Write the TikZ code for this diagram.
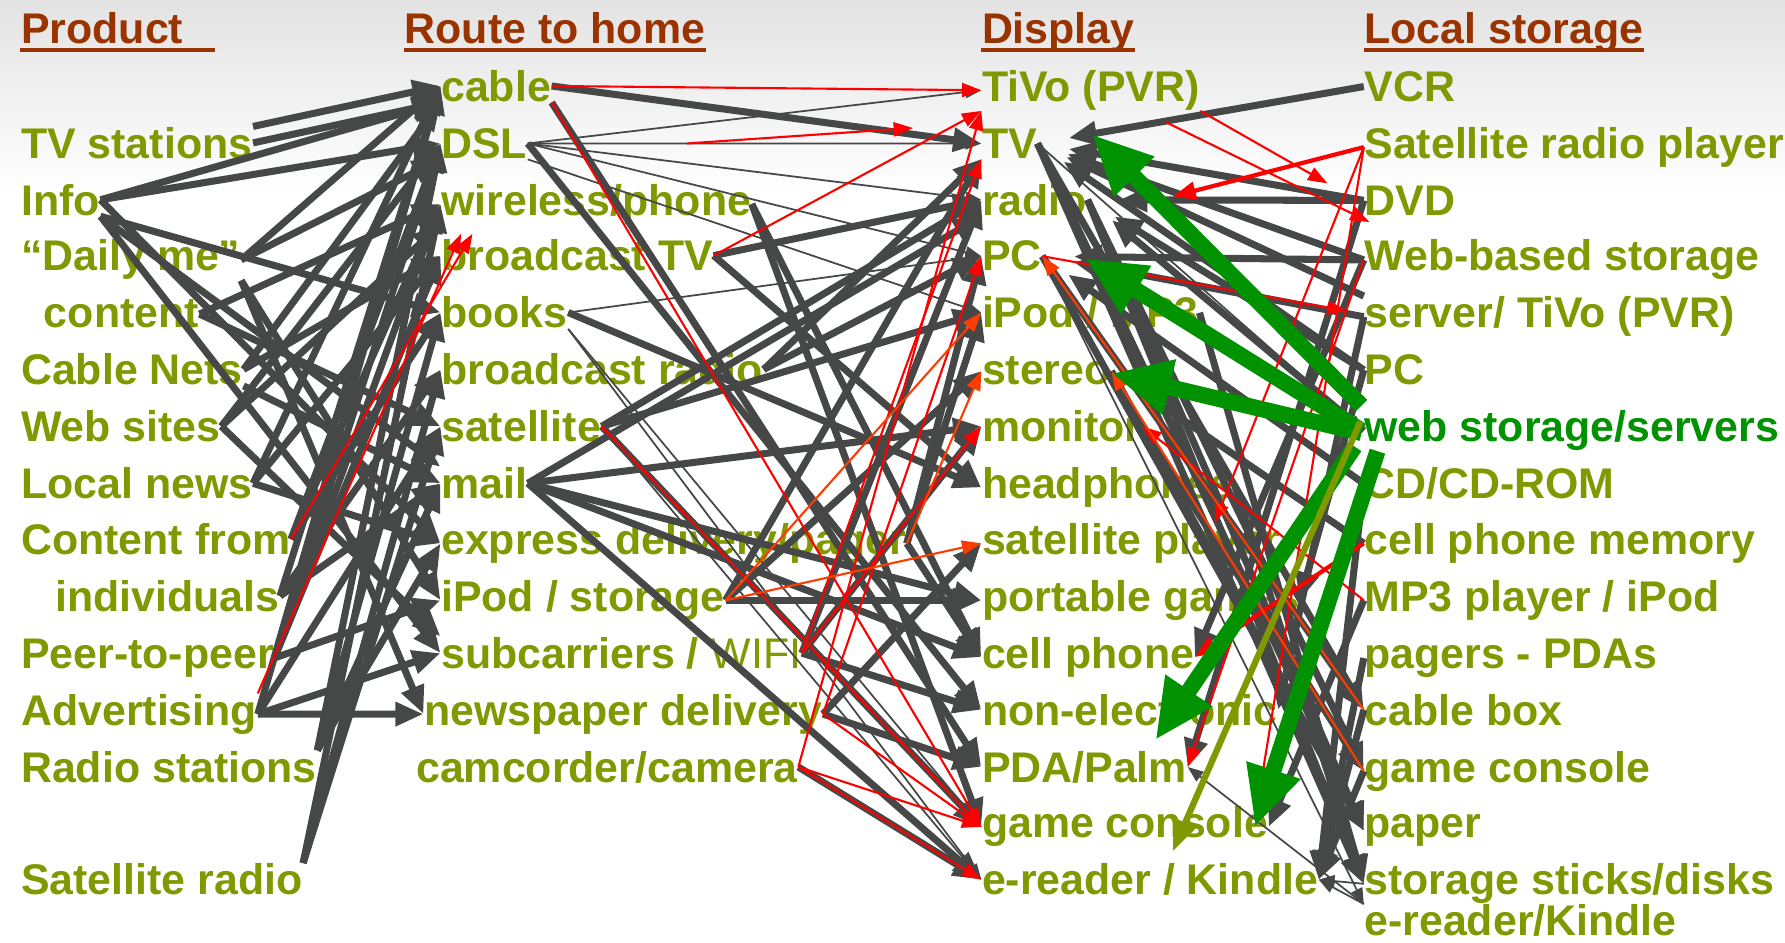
\documentclass[tikz,border=0pt]{standalone}
\usepackage{fontspec}
\setmainfont{Liberation Sans}
\usetikzlibrary{arrows.meta,calc}
\definecolor{itemolive}{RGB}{128,153,0}
\definecolor{headbrown}{RGB}{153,51,0}
\definecolor{pfeilgrau}{RGB}{70,72,72}
\definecolor{webgreen}{RGB}{0,146,0}
\definecolor{orangered}{RGB}{255,60,0}

\begin{document}
\begin{tikzpicture}[x=0.011384cm, y=-0.011384cm,
    every node/.style={inner sep=0pt, anchor=base west, font=\fontsize{12.2}{14}\selectfont\bfseries},
    item/.style={text=itemolive},
    head/.style={text=headbrown},
    uline/.style={headbrown, line width=1.1pt},
    flow/.style={pfeilgrau, line width=2pt, -{Triangle[length=8pt,width=6.5pt]}},
    flowt/.style={pfeilgrau, line width=0.5pt, -{Triangle[length=4.5pt,width=3.4pt]}},
    redline/.style={red, line width=0.6pt, -{Triangle[length=5.5pt,width=4pt]}},
    redthick/.style={red, line width=1.2pt, -{Triangle[length=6.5pt,width=5pt]}},
    orline/.style={orangered, line width=0.6pt, -{Triangle[length=5.5pt,width=4pt]}},
    greenflow/.style={webgreen, line width=4.6pt, -{Triangle[length=17pt,width=15pt]}},
    oliveflow/.style={itemolive, line width=1.8pt, -{Triangle[length=9pt,width=6.5pt]}},
    tol/.style={shorten >=9pt}]

\useasboundingbox (0,0) rectangle (1568,828);
\fill[top color=black!11, bottom color=white] (0,0) rectangle (1568,170);

% headers
\node[head] (hProd) at (18,38) {Product};
\node[head] (hRoute) at (355,38) {Route to home};
\node[head] (hDisp) at (862,38) {Display};
\node[head] (hLoc) at (1198,38) {Local storage};
\foreach \h/\ext in {hProd/27, hRoute/0, hDisp/0, hLoc/0}
    \draw[uline] ($(\h.base west)+(0,6)$) -- ($(\h.base east)+(\ext,6)$);

% product
\node[item] (pTV) at (18,139) {TV stations};
\node[item] (pInfo) at (18,189) {Info};
\node[item] (pDaily) at (18,238) {“Daily me”};
\node[item] (pContent) at (38,288) {content};
\node[item] (pCable) at (18,338) {Cable Nets};
\node[item] (pWeb) at (18,388) {Web sites};
\node[item] (pLocal) at (18,438) {Local news};
\node[item] (pFrom) at (18,487) {Content from};
\node[item] (pIndiv) at (48,537) {individuals};
\node[item] (pPeer) at (18,587) {Peer-to-peer};
\node[item] (pAdv) at (18,637) {Advertising};
\node[item] (pRadio) at (18,687) {Radio stations};
\node[item] (pSat) at (18,786) {Satellite radio};

% route to home
\node[item] (rCable) at (387,89) {cable};
\node[item] (rDSL) at (387,139) {DSL};
\node[item] (rWire) at (387,189) {wireless/phone};
\node[item] (rBTV) at (387,238) {broadcast TV};
\node[item] (rBooks) at (387,288) {books};
\node[item] (rBRadio) at (387,338) {broadcast radio};
\node[item] (rSat) at (387,388) {satellite};
\node[item] (rMail) at (387,438) {mail};
\node[item] (rExp) at (387,487) {express delivery/pager};
\node[item] (rIPod) at (387,537) {iPod / storage};
\node[item] (rSub) at (387,587) {subcarriers / {\mdseries WIFI}};
\node[item] (rNews) at (372,637) {newspaper delivery};
\node[item] (rCam) at (365,687) {camcorder/camera};

% display
\node[item] (dTiVo) at (862,89) {TiVo (PVR)};
\node[item] (dTV) at (862,139) {TV};
\node[item] (dRadio) at (862,189) {radio};
\node[item] (dPC) at (862,238) {PC};
\node[item] (dIPod) at (862,288) {iPod / MP3};
\node[item] (dStereo) at (862,338) {stereo};
\node[item] (dMon) at (862,388) {monitor};
\node[item] (dHead) at (862,438) {headphones};
\node[item] (dSatP) at (862,487) {satellite player};
\node[item] (dPort) at (862,537) {portable games};
\node[item] (dCell) at (862,587) {cell phone};
\node[item] (dNon) at (862,637) {non-electronic};
\node[item] (dPDA) at (862,687) {PDA/Palm};
\node[item] (dGame) at (862,736) {game console};
\node[item] (dRead) at (862,786) {e-reader / Kindle};

% local storage
\node[item] (sVCR) at (1198,89) {VCR};
\node[item] (sSatR) at (1198,139) {Satellite radio player};
\node[item] (sDVD) at (1198,189) {DVD};
\node[item] (sWebB) at (1198,238) {Web-based storage};
\node[item] (sServ) at (1198,288) {server/ TiVo (PVR)};
\node[item] (sPC) at (1198,338) {PC};
\node[text=webgreen] (sWeb) at (1198,388) {web storage/servers};
\node[item] (sCD) at (1198,438) {CD/CD-ROM};
\node[item] (sCell) at (1198,487) {cell phone memory};
\node[item] (sMP3) at (1198,537) {MP3 player / iPod};
\node[item] (sPag) at (1198,587) {pagers - PDAs};
\node[item] (sCBox) at (1198,637) {cable box};
\node[item] (sGame) at (1198,687) {game console};
\node[item] (sPaper) at (1198,736) {paper};
\node[item] (sStick) at (1198,786) {storage sticks/disks};
\node[item] (sRead) at (1198,822) {e-reader/Kindle};

% product -> route
\foreach \a/\b in {pTV.east/rCable.south west, pTV.north east/rCable.west,
    pInfo.east/rCable.south west, pInfo.east/rDSL.west, pInfo.south east/rBooks.west,
    pInfo.south east/rMail.north west, pInfo.south east/rSub.west, pInfo.east/rExp.west,
    pDaily.east/rDSL.south west, pDaily.east/rCable.west, pDaily.south east/rIPod.west,
    pDaily.south east/rNews.west, pContent.east/rWire.west, pContent.east/rSat.west,
    pCable.east/rCable.south west, pCable.east/rBTV.west, pCable.south east/rMail.west,
    pWeb.east/rDSL.west, pWeb.east/rWire.south west, pWeb.east/rSub.north west,
    pLocal.east/rBTV.west, pLocal.east/rCable.west, pLocal.east/rExp.west,
    pFrom.east/rDSL.west, pFrom.east/rBooks.west, pFrom.east/rWire.west,
    pIndiv.east/rCable.west, pIndiv.east/rBRadio.west, pIndiv.east/rMail.west,
    pPeer.east/rDSL.west, pPeer.east/rWire.west, pPeer.east/rIPod.west, pPeer.east/rBTV.west,
    pAdv.east/rCable.west, pAdv.east/rSat.west, pAdv.east/rSub.west, pAdv.east/rNews.west,
    pRadio.north east/rDSL.west, pRadio.north east/rBooks.west,
    pRadio.north east/rExp.west, pRadio.north east/rMail.west,
    pSat.north east/rWire.west, pSat.north east/rSat.west, pSat.north east/rBRadio.west}
    \draw[flow] (\a) -- (\b);
\draw[redline] (pAdv.north east) -- ($(rWire.south west)+(18,8)$);
\draw[redline] (pFrom.east) -- ($(rWire.south west)+(28,8)$);

% route -> display
\foreach \a/\b in {rCable.east/dTV.west, rCable.south east/dPDA.west, rDSL.east/dNon.west,
    rWire.east/dCell.west, rWire.east/dGame.west, rBTV.east/dRadio.west, rBTV.east/dHead.west,
    rBRadio.east/dPC.west, rBRadio.east/dTV.south west, rSat.east/dRadio.west,
    rSat.east/dIPod.west, rSat.east/dGame.west, rMail.east/dMon.west,
    rMail.east/dRadio.south west, rMail.east/dRead.west, rMail.east/dPort.west,
    rMail.east/dCell.west, rExp.east/dPC.west, rExp.east/dIPod.west, rExp.east/dCell.west,
    rIPod.east/dTV.south west, rIPod.east/dPort.west, rIPod.east/dStereo.west,
    rSub.east/dRadio.west, rSub.east/dMon.west, rSub.east/dNon.west,
    rNews.east/dSatP.west, rNews.east/dPDA.west, rCam.east/dRead.west, rBooks.east/dHead.west}
    \draw[flow] (\a) -- (\b);
\foreach \a/\b in {rDSL.east/dTiVo.west, rDSL.east/dTV.west, rDSL.east/dRadio.west,
    rDSL.east/dPC.west, rDSL.south east/dIPod.west, rBooks.east/dPC.west,
    rBooks.south east/dGame.west, rBooks.south east/dRead.west, rSat.east/dRead.west}
    \draw[flowt] (\a) -- (\b);
\foreach \a/\b in {rCable.east/dTiVo.west, rBTV.east/dTiVo.south west,
    rCable.south east/dGame.west, rSat.east/dGame.west, rSub.east/dTV.south west,
    rCam.east/dTiVo.south west, rNews.east/dPC.west, rNews.east/dGame.west,
    rCam.east/dGame.west, rCam.east/dRead.west, rSub.east/dMon.west}
    \draw[redline] (\a) -- (\b);
\draw[redline] ($(rDSL.east)+(140,0)$) -- ($(dTiVo.south west)+(-60,15)$);
\foreach \a/\b in {rIPod.east/dIPod.west, rIPod.east/dSatP.west, rExp.east/dStereo.west}
    \draw[orline] (\a) -- (\b);

% local storage <-> display
\foreach \a/\b in {sVCR.west/dTV.east, sDVD.west/dTV.east, sWebB.west/dTV.east,
    sServ.north west/dTV.east, sPC.west/dTV.east, sDVD.west/dRadio.east,
    sWebB.west/dPC.east, sServ.west/dPC.east, sPC.west/dRadio.east, sCD.west/dPC.east,
    sWeb.west/dRadio.east, sCell.west/dStereo.east}
    \draw[flow, tol] (\a) -- (\b);
\foreach \a/\b in {sDVD.west/dPDA.east, sWebB.west/dCell.east, sServ.west/dNon.east,
    sPC.west/dPort.east, sMP3.west/dGame.east, sCD.west/dRead.east, sPag.west/dRead.east,
    sCBox.west/dRead.east, sGame.west/dRead.east,
    dTV.east/sPaper.west, dTV.east/sStick.west, dRadio.east/sStick.west,
    dRadio.east/sGame.west, dPC.east/sPaper.west, dPC.east/sCBox.west,
    dIPod.east/sStick.west, dStereo.east/sPaper.west, dMon.east/sGame.west,
    dHead.east/sStick.west, dTV.east/sCBox.west, dRadio.east/sPaper.west}
    \draw[flow] (\a) -- (\b);
\foreach \a/\b in {sStick.west/dRead.east, sRead.north west/dRead.east,
    sRead.north west/dPDA.east, dTV.east/sWeb.west, dPC.east/sRead.north west}
    \draw[flowt] (\a) -- (\b);
\draw[redthick] (sSatR.west) -- ($(dRadio.east)+(75,-3)$);
\draw[redthick] (sCell.west) -- (dCell.east);
\draw[redline] (dTiVo.south east) -- ($(sDVD.west)+(-32,-15)$);
\draw[redline] ($(dTiVo.south east)+(-30,10)$) -- ($(sWebB.north west)+(5,-15)$);
\draw[redline] (sSatR.west) -- ($(dSatP.north west)+(205,0)$);
\draw[redline] (sSatR.west) -- ($(dGame.north east)+(-10,0)$);
\draw[redline] (dPC.east) -- ($(sServ.west)+(-15,-5)$);
\draw[redline] (sMP3.west) -- (dMon.east);
\draw[redline] (sWebB.west) -- (dPDA.east);
\draw[orline] (sGame.west) -- (dStereo.east);
\draw[orline] (sCBox.west) -- (dPC.east);

% web storage
\draw[greenflow] ($(sWeb.west)+(-2,-22)$) -- ($(dTV.east)+(48,-8)$);
\draw[greenflow] ($(sWeb.west)+(-2,0)$) -- ($(dPC.east)+(38,2)$);
\draw[greenflow] ($(sWeb.west)+(-2,2)$) -- ($(dStereo.east)+(0,2)$);
\draw[greenflow] ($(sWeb.west)+(-8,14)$) -- ($(dNon.base west)+(153,13)$);
\draw[greenflow] ($(sWeb.west)+(12,18)$) -- ($(dGame.east)+(-12,0)$);
\draw[oliveflow] ($(sWeb.west)+(-3,-8)$) -- ($(dRead.north west)+(168,-10)$);

\end{tikzpicture}
\end{document}
